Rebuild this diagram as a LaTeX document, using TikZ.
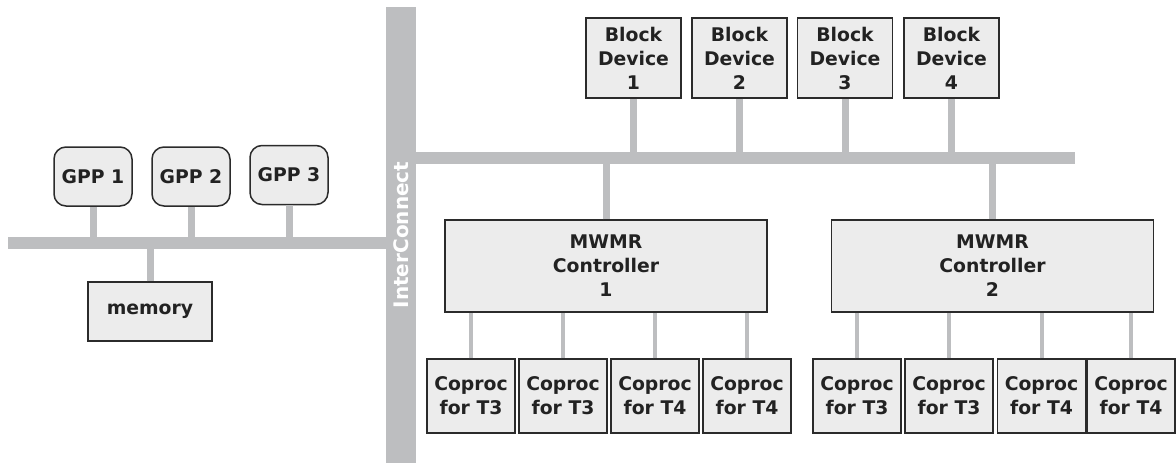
\documentclass[tikz,border=0pt]{standalone}
\usepackage{fontspec}
\setmainfont{DejaVu Sans}
\usetikzlibrary{positioning}
\definecolor{busgrey}{HTML}{BDBEC0}
\definecolor{boxbg}{HTML}{ECECEC}
\definecolor{boxborder}{HTML}{2B2B2B}
\definecolor{labeltxt}{HTML}{222222}

\begin{document}
\begin{tikzpicture}[
    x=1pt, y=-1pt,
    font=\fontsize{18.8}{24}\selectfont\bfseries,
    unit/.style={draw=boxborder, fill=boxbg, text=labeltxt, line width=1.5pt, align=center, inner sep=1pt},
    gpp_style/.style={unit, rounded corners=12pt, minimum width=78pt, minimum height=59pt},
    mem_style/.style={unit, minimum width=124pt, minimum height=59pt},
    bd_style/.style={unit, minimum width=95pt, minimum height=80pt},
    mwmr_style/.style={unit, minimum width=322pt, minimum height=92pt},
    coproc_style/.style={unit, minimum width=88pt, minimum height=74pt},
    bus/.style={busgrey, line width=12pt},
    stub/.style={busgrey, line width=7pt},
    thinstub/.style={busgrey, line width=4pt}
]
    \useasboundingbox (0,0) rectangle (1176,463);

    % InterConnect bar
    \node[fill=busgrey, text=white, rotate=90, inner sep=0pt, minimum width=456pt, minimum height=30pt,
          font=\fontsize{20}{24}\selectfont\bfseries] (ic) at (401,235) {InterConnect};

    % Bus lines
    \coordinate (lbus) at (8,243);
    \coordinate (rbus) at (1075,157.5);
    \draw[bus] (lbus) -- (lbus -| ic.north);
    \draw[bus] (rbus -| ic.south) -- (rbus);

    % --- LEFT SIDE: processors and memory ---
    \node[gpp_style] (gpp1) at (93,176.5) {GPP 1};
    \node[gpp_style] (gpp2) at (191,176.5) {GPP 2};
    \node[gpp_style] (gpp3) at (289,175) {GPP 3};
    \node[mem_style] (mem) at (150,311.5) {memory};

    \draw[stub] (gpp1) -- (gpp1 |- lbus);
    \draw[stub] (gpp2) -- (gpp2 |- lbus);
    \draw[stub] (gpp3) -- (gpp3 |- lbus);
    \draw[stub] (mem) -- (mem |- lbus);

    % --- RIGHT SIDE: block devices ---
    \node[bd_style] (bd1) at (633.5,58) {Block\\Device\\1};
    \node[bd_style] (bd2) at (739.5,58) {Block\\Device\\2};
    \node[bd_style] (bd3) at (845,58) {Block\\Device\\3};
    \node[bd_style] (bd4) at (951.5,58) {Block\\Device\\4};

    \draw[stub] (bd1) -- ([yshift=6pt]bd1 |- rbus);
    \draw[stub] (bd2) -- ([yshift=6pt]bd2 |- rbus);
    \draw[stub] (bd3) -- ([yshift=6pt]bd3 |- rbus);
    \draw[stub] (bd4) -- ([yshift=6pt]bd4 |- rbus);

    % MWMR controllers
    \node[mwmr_style] (mwmr1) at (606,266) {MWMR\\Controller\\1};
    \node[mwmr_style] (mwmr2) at (992.5,266) {MWMR\\Controller\\2};

    \draw[stub] (mwmr1) -- (mwmr1 |- rbus);
    \draw[stub] (mwmr2) -- (mwmr2 |- rbus);

    % Coprocessors of controller 1
    \node[coproc_style] (cp11) at (471,396) {Coproc\\for T3};
    \node[coproc_style] (cp12) at (563,396) {Coproc\\for T3};
    \node[coproc_style] (cp13) at (655,396) {Coproc\\for T4};
    \node[coproc_style] (cp14) at (747,396) {Coproc\\for T4};

    \draw[thinstub] (cp11) -- (cp11 |- mwmr1.south);
    \draw[thinstub] (cp12) -- (cp12 |- mwmr1.south);
    \draw[thinstub] (cp13) -- (cp13 |- mwmr1.south);
    \draw[thinstub] (cp14) -- (cp14 |- mwmr1.south);

    % Coprocessors of controller 2
    \node[coproc_style] (cp21) at (857,396) {Coproc\\for T3};
    \node[coproc_style] (cp22) at (949,396) {Coproc\\for T3};
    \node[coproc_style] (cp23) at (1041.5,396) {Coproc\\for T4};
    \node[coproc_style] (cp24) at (1131,396) {Coproc\\for T4};

    \draw[thinstub] (cp21) -- (cp21 |- mwmr2.south);
    \draw[thinstub] (cp22) -- (cp22 |- mwmr2.south);
    \draw[thinstub] (cp23) -- (cp23 |- mwmr2.south);
    \draw[thinstub] (cp24) -- (cp24 |- mwmr2.south);

\end{tikzpicture}
\end{document}
